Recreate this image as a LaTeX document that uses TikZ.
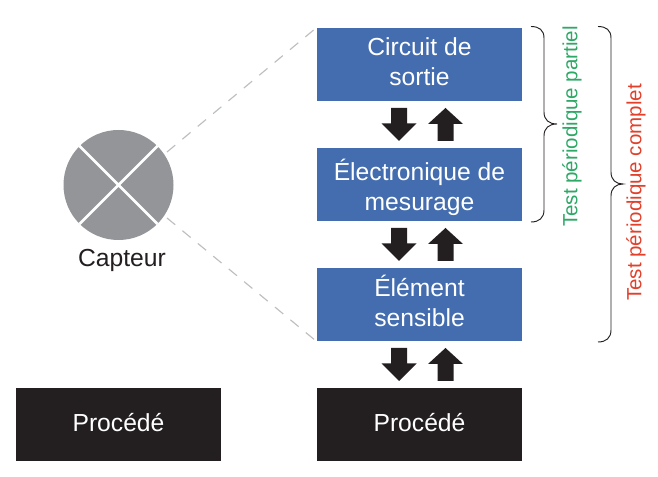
\documentclass[tikz,border=0pt]{standalone}
\usepackage{fontspec}
\setmainfont{Liberation Sans}
\definecolor{boxblue}{HTML}{436DAF}
\definecolor{inkblack}{HTML}{231F20}
\definecolor{sensgray}{HTML}{939598}
\definecolor{dashgray}{HTML}{BCBEC0}
\definecolor{testgreen}{HTML}{2EA866}
\definecolor{testred}{HTML}{E2402B}
\tikzset{
  x=0.75pt,y=-0.75pt,
  block/.style={minimum width=154pt,minimum height=55pt,inner sep=0pt,align=center,text=white,font=\fontsize{18.5pt}{22.5pt}\selectfont},
  bluebox/.style={block,fill=boxblue},
  blackbox/.style={block,fill=inkblack},
  pics/flowdown/.style={code={\fill[inkblack] (-8,-16.5) -- (8,-16.5) -- (8,-1) -- (17.5,-1) -- (0,16.5) -- (-17.5,-1) -- (-8,-1) -- cycle;}},
  pics/flowup/.style={code={\fill[inkblack] (-8,16.5) -- (8,16.5) -- (8,-0.5) -- (17.5,-0.5) -- (0,-16.5) -- (-17.5,-0.5) -- (-8,-0.5) -- cycle;}},
  zoomline/.style={draw=dashgray,line width=0.85pt,dash pattern=on 8pt off 7pt},
  curly/.style={draw=inkblack,line width=0.7pt},
  sidetext/.style={rotate=90,font=\fontsize{15.4pt}{20pt}\selectfont,inner sep=0pt},
}
\begin{document}
\begin{tikzpicture}
\useasboundingbox (0,0) rectangle (658,477);
\fill[white] (0,0) rectangle (658,477);
% sensor
\fill[sensgray] (118.5,185) coordinate (c) circle[radius=55*0.75pt];
\draw[white,line width=1.9pt] (79.5,146) -- (157.5,224) (157.5,146) -- (79.5,224);
\node[font=\fontsize{18.5pt}{20pt}\selectfont,text=inkblack,inner sep=0pt] (capteur) at (122,260) {Capteur};
% boxes
\node[bluebox] (sortie) at (419.5,64.5) {};
\node[bluebox] (mesure) at (419.5,184.5) {};
\node[bluebox] (element) at (419.5,304.5) {};
\node[blackbox] (proc) at (419.5,424.5) {};
\node[blackbox] (procg) at (118.5,424.5) {};
\node[block] (tsortie) at (419.5,62) {Circuit de\\sortie};
\node[block] (tmesure) at (419.5,187) {Électronique de\\mesurage};
\node[block] (telement) at (419.5,301) {Élément\\sensible};
\node[block] (tproc) at (419.5,423) {Procédé};
\node[block] (tprocg) at (118.5,423) {Procédé};
% zoom lines
\coordinate (za) at (167,152);
\coordinate (zb) at (167,218);
\draw[zoomline] (za) -- (sortie.north west);
\draw[zoomline] (zb) -- (element.south west);
% arrows
\pic at (399,124.5) {flowdown};
\pic at (445.5,124.5) {flowup};
\pic at (399,244.5) {flowdown};
\pic at (445.5,244.5) {flowup};
\pic at (399,364.5) {flowdown};
\pic at (445.5,364.5) {flowup};
% braces
\draw[curly] (531,26.5) .. controls (539,26.5) and (544,30) .. (544,38)
  -- (544,112) .. controls (544,120) and (549,124) .. (557,124)
  .. controls (549,124) and (544,128) .. (544,136)
  -- (544,210) .. controls (544,218) and (539,222) .. (531,222);
\draw[curly] (598,26.5) .. controls (606,26.5) and (611,30) .. (611,38)
  -- (611,172) .. controls (611,180) and (616,184) .. (623,184)
  .. controls (616,184) and (611,188) .. (611,196)
  -- (611,330) .. controls (611,338) and (606,342) .. (598,342);
% labels
\node[sidetext,text=testgreen] (partiel) at (572,126.5) {Test périodique partiel};
\node[sidetext,text=testred] (complet) at (636,192.5) {Test périodique complet};
\end{tikzpicture}
\end{document}
